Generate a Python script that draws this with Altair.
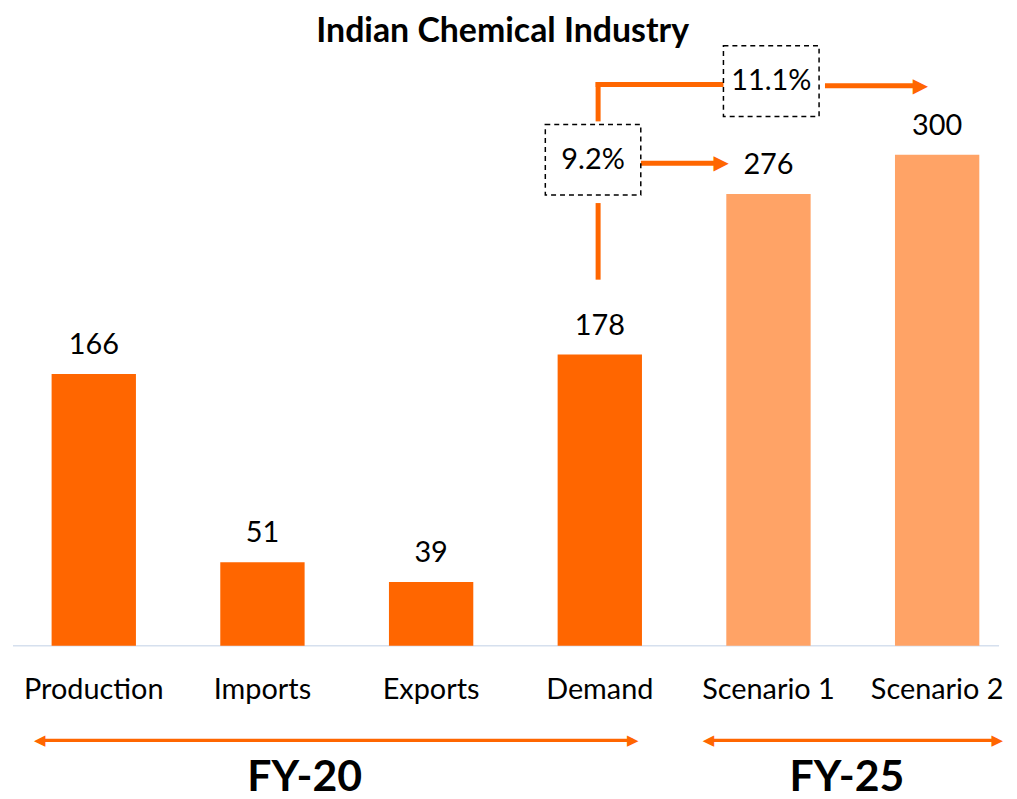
import altair as alt
import pandas as pd

# ---- data ----
categories = ["Production", "Imports", "Exports", "Demand", "Scenario 1", "Scenario 2"]
values = [166, 51, 39, 178, 276, 300]
periods = ["FY-20", "FY-20", "FY-20", "FY-20", "FY-25", "FY-25"]
period_names = ["FY-20", "FY-25"]
period_colors = ["#FF6600", "#FFA366"]
growth_labels = ["9.2%", "11.1%"]
title_text = "Indian Chemical Industry"

FONT = "Lato"
ORANGE = "#FF6600"

rows = []
def add(kind, xa=0.0, xb=0.0, ya=0.0, yb=0.0, xc=0.0, yc=0.0, label="", period="FY-20"):
    rows.append(dict(kind=kind, xa=xa, xb=xb, ya=ya, yb=yb, xc=xc, yc=yc, label=label, period=period))

# bars, value labels, category labels
for i, (c, v, p) in enumerate(zip(categories, values, periods)):
    add("bar", xa=i - 0.25, xb=i + 0.25, ya=0.0, yb=float(v), xc=float(i), yc=float(v), label=str(v), period=p)
    add("cat", xc=float(i), yc=-27.3, label=c)

# baseline (thin light rule across the plot)
add("base", xa=-0.479, xb=5.367, ya=-0.45, yb=0.45)

# growth connector lines (thick, ~5px)
T = 1.52   # half thickness in value units
VT = 0.0148  # half thickness in category units
add("seg", xa=2.99 - VT, xb=2.99 + VT, ya=223.7, yb=270.5)          # lower vertical from Demand
add("seg", xa=2.99 - VT, xb=2.99 + VT, ya=320.4, yb=344.4)          # upper vertical
add("seg", xa=2.99 - VT, xb=3.74, ya=342.9 - T, yb=342.9 + T)       # to 11.1% box
add("seg", xa=4.335, xb=4.88, ya=342.2 - T, yb=342.2 + T)           # 11.1% arrow shaft
add("seg", xa=3.243, xb=3.70, ya=294.8 - T, yb=294.8 + T)           # 9.2% arrow shaft
# period span lines (~3px)
t = 0.95
add("seg", xa=-0.32, xb=3.196, ya=-57.75 - t, yb=-57.75 + t)
add("seg", xa=3.645, xb=5.356, ya=-57.75 - t, yb=-57.75 + t)

# arrow heads
add("headR", xc=4.90, yc=342.2, label="▶")
add("headR", xc=3.72, yc=294.8, label="▶")
add("headRs", xc=3.196, yc=-57.75, label="▶")
add("headRs", xc=5.356, yc=-57.75, label="▶")
add("headLs", xc=-0.32, yc=-57.75, label="◀")
add("headLs", xc=3.645, yc=-57.75, label="◀")

# dashed boxes with growth labels
add("box", xa=2.677, xb=3.243, ya=275.4, yb=318.5, xc=2.96, yc=296.6, label=growth_labels[0])
add("box", xa=3.733, xb=4.30, ya=323.4, yb=366.6, xc=4.0165, yc=345.0, label=growth_labels[1])

# period labels and title
add("fy", xc=1.25, yc=-81.0, label=period_names[0])
add("fy", xc=4.465, yc=-81.0, label=period_names[1])
add("title", xc=2.424, yc=375.0, label=title_text)

df = pd.DataFrame(rows)

XD = [-0.479, 5.367]
YD = [-85.7, 384.2]
xs = alt.Scale(domain=XD, nice=False, zero=False)
ys = alt.Scale(domain=YD, nice=False, zero=False)

def rect_enc(ch):
    return ch.encode(
        x=alt.X("xa:Q", scale=xs, axis=None), x2="xb:Q",
        y=alt.Y("ya:Q", scale=ys, axis=None), y2="yb:Q",
    )

def text_enc(ch):
    return ch.encode(
        x=alt.X("xc:Q", scale=xs, axis=None),
        y=alt.Y("yc:Q", scale=ys, axis=None),
        text="label:N",
    )

base = alt.Chart(df)

baseline = rect_enc(base.transform_filter(alt.datum.kind == "base").mark_bar(color="#D6E0EE"))

bar_layer = base.transform_filter(alt.datum.kind == "bar").mark_bar().encode(
    x=alt.X("xa:Q", scale=xs, axis=None), x2="xb:Q",
    y=alt.Y("ya:Q", scale=ys, axis=None), y2="yb:Q",
    color=alt.Color("period:N", scale=alt.Scale(domain=period_names, range=period_colors), legend=None),
)

value_labels = text_enc(base.transform_filter(alt.datum.kind == "bar").mark_text(
    font=FONT, fontSize=29, baseline="bottom", dy=-14, color="black"))

cat_labels = text_enc(base.transform_filter(alt.datum.kind == "cat").mark_text(
    font=FONT, fontSize=29, baseline="middle", color="black"))

seg_layer = rect_enc(base.transform_filter(alt.datum.kind == "seg").mark_bar(color=ORANGE))

head_big = text_enc(base.transform_filter(alt.datum.kind == "headR").mark_text(
    font="DejaVu Sans", fontSize=20, baseline="middle", align="center", color=ORANGE))
head_small_r = text_enc(base.transform_filter(alt.datum.kind == "headRs").mark_text(
    font="DejaVu Sans", fontSize=15, baseline="middle", align="center", color=ORANGE))
head_small_l = text_enc(base.transform_filter(alt.datum.kind == "headLs").mark_text(
    font="DejaVu Sans", fontSize=15, baseline="middle", align="center", color=ORANGE))

box_layer = rect_enc(base.transform_filter(alt.datum.kind == "box").mark_bar(
    fill="white", stroke="black", strokeWidth=1.5, strokeDash=[5, 4]))
box_text = text_enc(base.transform_filter(alt.datum.kind == "box").mark_text(
    font=FONT, fontSize=29, baseline="middle", color="black"))

fy_text = text_enc(base.transform_filter(alt.datum.kind == "fy").mark_text(
    font=FONT, fontSize=43, fontWeight="bold", baseline="middle", color="black"))

title_layer = text_enc(base.transform_filter(alt.datum.kind == "title").mark_text(
    font=FONT, fontSize=34, fontWeight="bold", baseline="middle", color="black"))

chart = alt.layer(
    baseline, bar_layer, value_labels, cat_labels, seg_layer,
    head_big, head_small_r, head_small_l,
    box_layer, box_text, fy_text, title_layer
).properties(
    width=991, height=773
).configure_view(strokeWidth=0)

chart.save("out.html", embed_options={"renderer": "svg", "actions": False})
